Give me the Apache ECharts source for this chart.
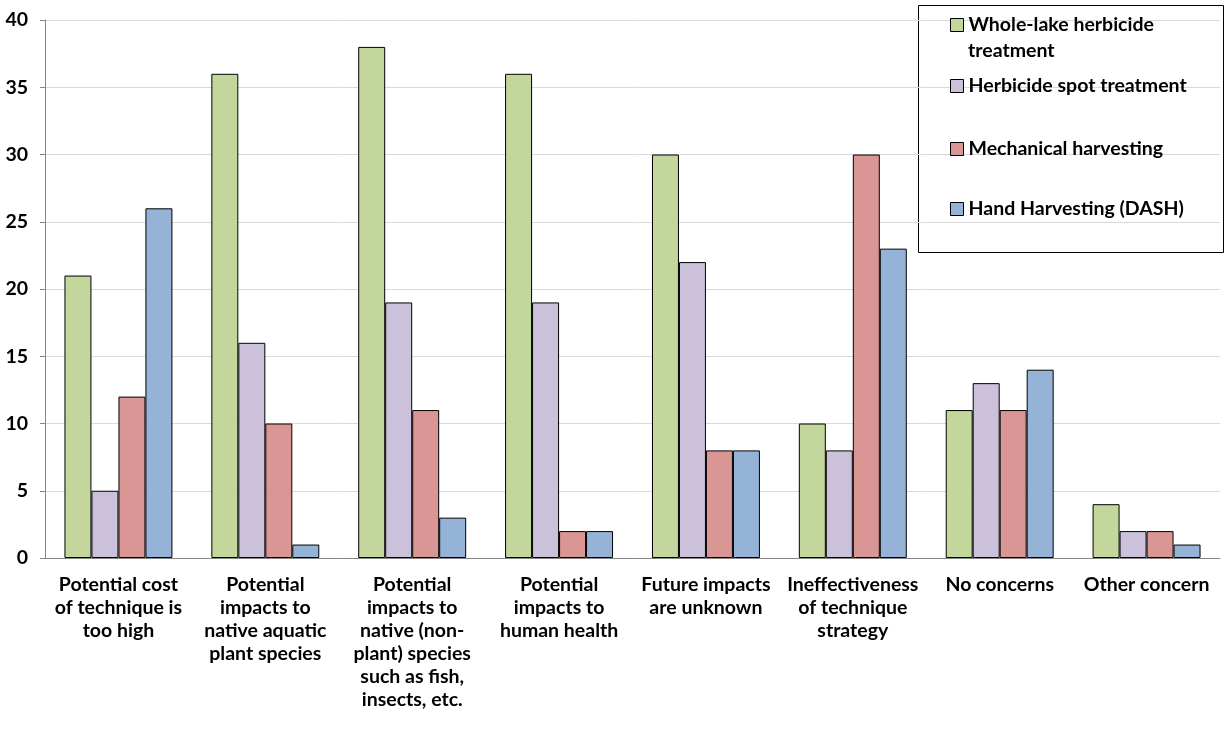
<!DOCTYPE html>
<html>
<head>
<meta charset="utf-8">
<script src="https://cdn.jsdelivr.net/npm/echarts@6/dist/echarts.min.js"></script>
<style>
  html, body { margin: 0; padding: 0; background: #fff; }
  #chart { width: 1225px; height: 729px; }
</style>
</head>
<body>
<div id="chart"></div>
<script>
// Concerns about each aquatic plant management technique (number of responses)
const categories = [
  'Potential cost\nof technique is\ntoo high',
  'Potential\nimpacts to\nnative aquatic\nplant species',
  'Potential\nimpacts to\nnative (non-\nplant) species\nsuch as fish,\ninsects, etc.',
  'Potential\nimpacts to\nhuman health',
  'Future impacts\nare unknown',
  'Ineffectiveness\nof technique\nstrategy',
  'No concerns',
  'Other concern'
];
const seriesNames = [
  'Whole-lake herbicide\ntreatment',
  'Herbicide spot treatment',
  'Mechanical harvesting',
  'Hand Harvesting (DASH)'
];
const wholeLake = [21, 36, 38, 36, 30, 10, 11, 4];
const spotTreatment = [5, 16, 19, 19, 22, 8, 13, 2];
const mechanical = [12, 10, 11, 2, 8, 30, 11, 2];
const handHarvest = [26, 1, 3, 2, 8, 23, 14, 1];
const yTicks = [0, 5, 10, 15, 20, 25, 30, 35, 40];

const colors = ['#C3D69B', '#CCC1DA', '#D99694', '#95B3D7'];
const values = [wholeLake, spotTreatment, mechanical, handHarvest];
const font = 'Lato, "Open Sans", sans-serif';
const fontSize = 19.5;
const labelFont = { fontFamily: font, fontWeight: 'bold', fontSize: fontSize, color: '#000' };

const chart = echarts.init(document.getElementById('chart'));

// One legend per series so each entry sits at its own row in the box;
// only the first line of a wrapped name sits beside the swatch.
const legendTops = [12, 73, 136, 196];
const legends = seriesNames.map((name, i) => ({
  data: [name],
  left: 950,
  top: legendTops[i],
  padding: 0,
  orient: 'vertical',
  itemWidth: 13,
  itemHeight: 13,
  itemGap: 0,
  icon: 'rect',
  selectedMode: false,
  formatter: n => n.split('\n')[0],
  itemStyle: { borderColor: '#000', borderWidth: 1 },
  textStyle: Object.assign({ lineHeight: 26 }, labelFont)
}));

chart.setOption({
  animation: false,
  color: colors,
  textStyle: { fontFamily: font },
  grid: { left: 45, right: 5, top: 20, bottom: 171 },
  legend: legends,
  graphic: [
    {
      type: 'rect',
      shape: { x: 918.5, y: 5.5, width: 305, height: 247 },
      style: { fill: '#fff', stroke: '#000', lineWidth: 1 },
      z: 0
    },
    {
      type: 'text',
      left: 968,
      top: 41,
      style: {
        text: seriesNames[0].split('\n')[1],
        fill: '#000',
        font: 'bold ' + fontSize + 'px ' + font
      },
      z: 5
    }
  ],
  xAxis: {
    type: 'category',
    data: categories,
    axisLine: { lineStyle: { color: '#868686', width: 1 } },
    axisTick: { show: false },
    axisLabel: Object.assign({ interval: 0, margin: 15, lineHeight: 23, align: 'center' }, labelFont)
  },
  yAxis: {
    type: 'value',
    min: yTicks[0],
    max: yTicks[yTicks.length - 1],
    interval: 5,
    axisLine: { show: true, lineStyle: { color: '#868686', width: 1 } },
    axisTick: { show: true, length: 5, lineStyle: { color: '#868686' } },
    splitLine: { lineStyle: { color: '#D9D9D9', width: 1 } },
    axisLabel: Object.assign({ margin: 17 }, labelFont)
  },
  series: values.map((data, i) => ({
    name: seriesNames[i],
    type: 'bar',
    data: data,
    barGap: '0%',
    barCategoryGap: '26.5%',
    itemStyle: { color: colors[i], borderColor: '#000', borderWidth: 1 },
    z: 2
  }))
});
</script>
</body>
</html>
